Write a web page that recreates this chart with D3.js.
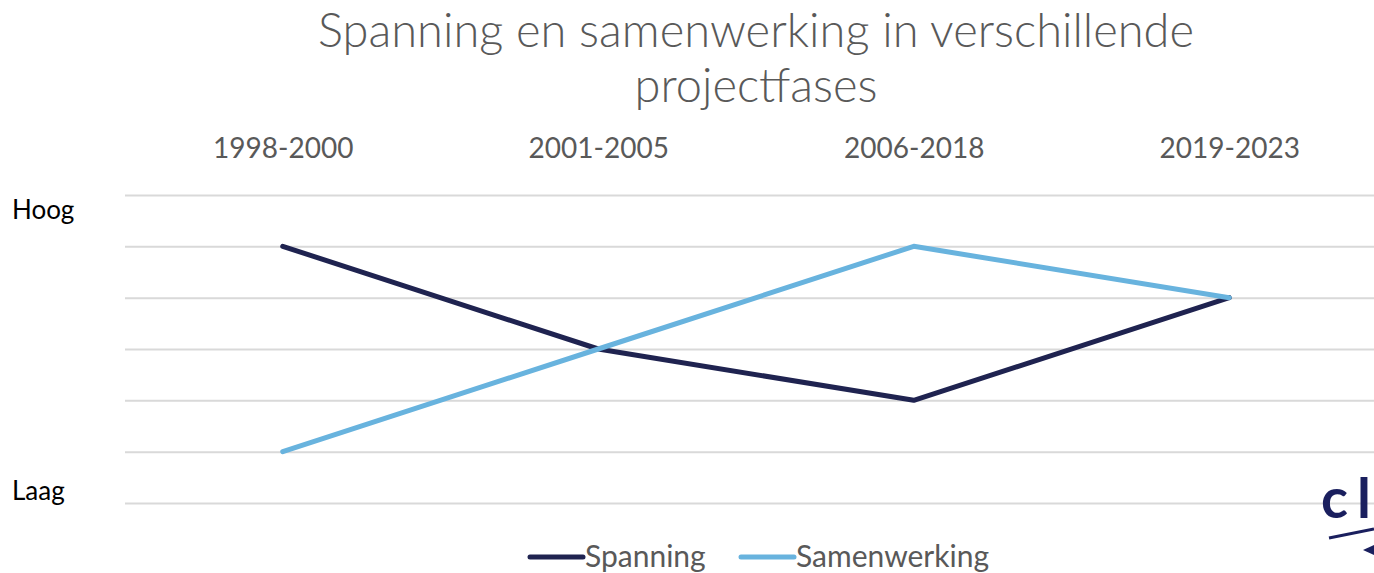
<!DOCTYPE html>
<html>
<head>
<meta charset="utf-8">
<script src="https://cdn.jsdelivr.net/npm/d3@7"></script>
<style>
  body { margin: 0; background: #fff; overflow: hidden; }
  text { font-family: Lato, 'Open Sans', sans-serif; }
</style>
</head>
<body>
<div id="graf"></div>
<script>
const anchoTotal = 1374
const altoTotal = 573

// datos
const fases = ['1998-2000', '2001-2005', '2006-2018', '2019-2023']
const spanning = [5, 3, 2, 4]
const samenwerking = [1, 3, 5, 4]
const yTicks = [0, 1, 2, 3, 4, 5, 6]
const series = [
  { naam: 'Spanning', valores: spanning, color: '#1f2350' },
  { naam: 'Samenwerking', valores: samenwerking, color: '#68b3de' }
]

const svg = d3.select('#graf')
  .append('svg')
  .attr('width', anchoTotal)
  .attr('height', altoTotal)

const margin = { top: 195, bottom: 70, left: 125, right: -13 }
const ancho = anchoTotal - margin.left - margin.right
const alto = altoTotal - margin.top - margin.bottom

const g = svg.append('g')
  .attr('transform', `translate(${margin.left}, ${margin.top})`)

const x = d3.scalePoint()
  .domain(fases)
  .range([0, ancho])
  .padding(0.5)

const y = d3.scaleLinear()
  .domain([0, 6])
  .range([alto, 0])

// titulo
const titulo = ['Spanning en samenwerking in verschillende', 'projectfases']
titulo.forEach((t, i) => {
  svg.append('text')
    .attr('x', 756)
    .attr('y', 47 + i * 55)
    .attr('text-anchor', 'middle')
    .attr('fill', '#595959')
    .attr('font-size', 47)
    .attr('font-weight', 300)
    .text(t)
})

// grid
g.append('g')
  .call(d3.axisLeft(y).tickValues(yTicks).tickSize(-ancho).tickFormat(''))
  .call(s => s.select('.domain').remove())
  .selectAll('line')
  .attr('stroke', '#d9d9d9')
  .attr('stroke-width', 2)

// eje x arriba
g.append('g')
  .attr('transform', 'translate(0, -34)')
  .call(d3.axisTop(x).tickSize(0))
  .call(s => s.select('.domain').remove())
  .selectAll('text')
  .attr('fill', '#595959')
  .attr('font-size', 28)
  .attr('font-family', 'Lato, sans-serif')

// Hoog / Laag
svg.append('text').attr('x', 12).attr('y', 219)
  .attr('font-size', 26).attr('fill', '#000').text('Hoog')
svg.append('text').attr('x', 12).attr('y', 500)
  .attr('font-size', 26).attr('fill', '#000').text('Laag')

// lineas
const linea = d3.line()
  .x((d, i) => x(fases[i]))
  .y(d => y(d))

g.selectAll('.serie')
  .data(series)
  .enter()
  .append('path')
  .attr('class', 'serie')
  .attr('d', d => linea(d.valores))
  .attr('fill', 'none')
  .attr('stroke', d => d.color)
  .attr('stroke-width', 5)
  .attr('stroke-linejoin', 'round')
  .attr('stroke-linecap', 'round')

// leyenda
const leyenda = svg.append('g').attr('transform', 'translate(0, 557)')
const posLeyenda = [530, 741]
series.forEach((s, i) => {
  leyenda.append('line')
    .attr('x1', posLeyenda[i]).attr('x2', posLeyenda[i] + 53)
    .attr('stroke', s.color).attr('stroke-width', 5)
    .attr('stroke-linecap', 'round')
  leyenda.append('text')
    .attr('x', posLeyenda[i] + 55).attr('y', 10)
    .attr('font-size', 30).attr('fill', '#595959')
    .text(s.naam)
})

// logo
const logo = svg.append('g')
  .attr('fill', '#1a1f5e')
  .attr('font-size', 56)
  .attr('font-weight', 'bold')
logo.append('text').attr('x', 1321).attr('y', 518).text('c')
logo.append('text').attr('x', 1357).attr('y', 518).text('l')
logo.append('path')
  .attr('d', 'M1329,538 L1374,529')
  .attr('stroke', '#1a1f5e').attr('stroke-width', 3)
logo.append('path')
  .attr('d', 'M1363,550 L1374,545 L1374,555 Z')
</script>
</body>
</html>
